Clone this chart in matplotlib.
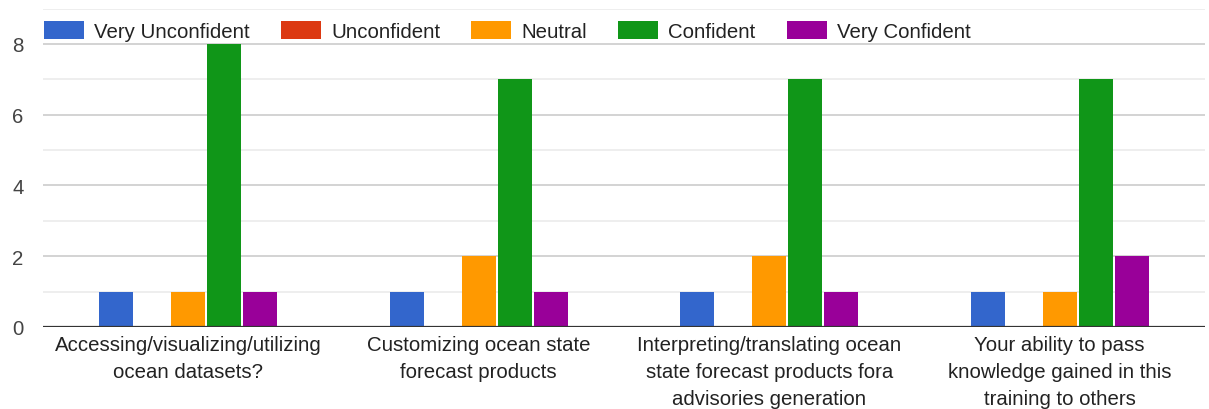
import numpy as np
import matplotlib.pyplot as plt
from matplotlib.patches import Rectangle
from matplotlib.legend_handler import HandlerPatch
from matplotlib.ticker import MultipleLocator

plt.rcParams['font.family'] = ['Liberation Sans', 'DejaVu Sans']

questions = [
    "Accessing/visualizing/utilizing\nocean datasets?",
    "Customizing ocean state\nforecast products",
    "Interpreting/translating ocean\nstate forecast products fora\nadvisories generation",
    "Your ability to pass\nknowledge gained in this\ntraining to others",
]
levels = ["Very Unconfident", "Unconfident", "Neutral", "Confident", "Very Confident"]
very_unconfident = [1, 1, 1, 1]
unconfident = [0, 0, 0, 0]
neutral = [1, 2, 2, 1]
confident = [8, 7, 7, 7]
very_confident = [1, 1, 1, 2]
colors = ["#3366CC", "#DC3912", "#FF9900", "#109618", "#990099"]

series = [very_unconfident, unconfident, neutral, confident, very_confident]
fs = 14.7


def legend_box(legend, orig_handle, xdescent, ydescent, width, height, fontsize):
    # swatch centred on the cap height of the label text
    h = 0.94 * fontsize
    y0 = 0.36 * fontsize - h / 2
    return Rectangle((-xdescent, y0), width, h)


fig = plt.figure(figsize=(12.09, 4.1), dpi=100)
ax = fig.add_axes([43 / 1209, 82 / 410, 1162 / 1209, 318.4 / 410])

x = np.arange(len(questions))
step = 0.124
width = 0.117
for i, (vals, name, c) in enumerate(zip(series, levels, colors)):
    ax.bar(x + (i - 2) * step, vals, width, color=c, label=name, zorder=3)

ax.set_xlim(-0.5, 3.5)
ax.set_ylim(0, 9)
ax.yaxis.set_major_locator(MultipleLocator(2))
ax.yaxis.set_minor_locator(MultipleLocator(1))
ax.grid(axis='y', which='major', color='#cccccc', linewidth=1.2, zorder=0)
ax.grid(axis='y', which='minor', color='#ebebeb', linewidth=1.2, zorder=0)
ax.axhline(0, color='#333333', linewidth=1.6, zorder=4)

for s in ax.spines.values():
    s.set_visible(False)

ax.set_xticks(x)
ax.set_xticklabels(questions, fontsize=fs, color='#222222', linespacing=1.52)
ax.tick_params(axis='x', length=0, pad=6)
ax.tick_params(axis='y', which='both', length=0, pad=14, labelsize=fs, labelcolor='#444444')
ax.set_yticks([0, 2, 4, 6, 8])

leg = ax.legend(loc='center left', bbox_to_anchor=(0.001, 8.36 / 9), ncol=5,
                frameon=False, fontsize=fs, handlelength=1.96, handleheight=0.92,
                handletextpad=0.49, columnspacing=1.53, borderpad=0, borderaxespad=0,
                handler_map={Rectangle: HandlerPatch(patch_func=legend_box)})
for t in leg.get_texts():
    t.set_color('#222222')

fig.savefig("out.png", dpi=100, facecolor='white')
